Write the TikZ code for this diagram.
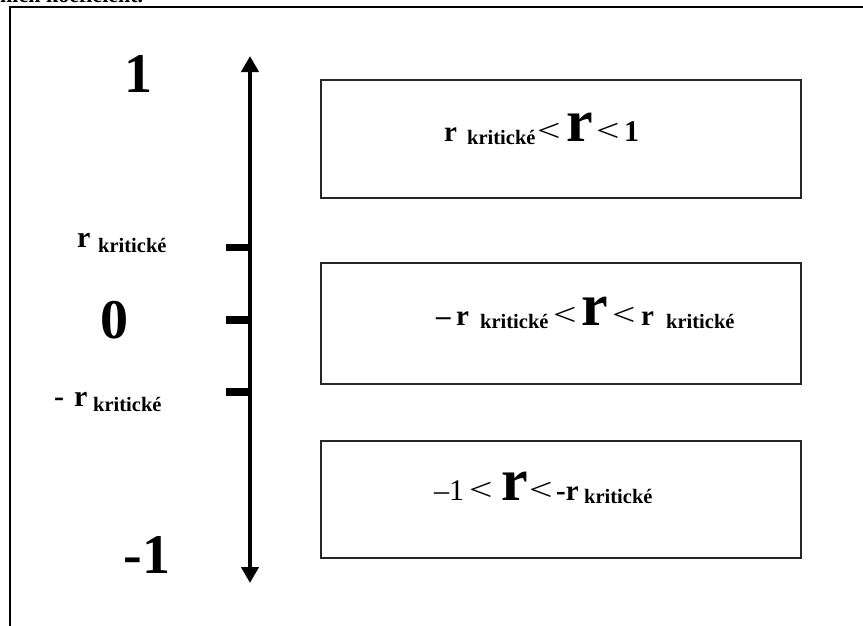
\documentclass[tikz,border=0pt]{standalone}
\usepackage{fontspec}
\setmainfont{Liberation Serif}
\usetikzlibrary{arrows.meta}
% sizes in pt; one pt per unit of the drawing grid
\newcommand\fsz[1]{\fontsize{#1}{#1}\selectfont}
\newcommand\ltsign{\scalebox{1.3}[1]{\fsz{32}\mdseries<}}
\begin{document}
\begin{tikzpicture}[x=1pt,y=-1pt,
  rangebox/.style={draw=black!85,line width=1.8pt},
  bigdigit/.style={font=\bfseries\fsz{56}},
  piece/.style={anchor=base west,inner sep=0pt,font=\bfseries},
  rsm/.style={piece,font=\bfseries\fsz{29}},
  rbig/.style={piece,font=\bfseries\fsz{60}},
  sub/.style={piece,font=\bfseries\fsz{20.5}},
  rel/.style={piece},
  axisline/.style={line width=4.5pt,{Triangle[width=17pt,length=16pt]}-{Triangle[width=17pt,length=16pt]}},
  tick/.style={line width=7.5pt}]
\useasboundingbox (0,0) rectangle (863,625);

% caption line above the frame, mostly cut away by the page edge
\node[anchor=base west,inner sep=0pt,font=\bfseries\fsz{22}] (caption) at (0,2) {ních koeficient.};

% open frame: left and top edges
\draw[line width=1.8pt] (10,640) |- (880,7);

% vertical scale
\coordinate (top) at (250,56);
\coordinate (bot) at (250,583);
\draw[axisline] (bot) -- (top);
\coordinate (tkp) at (250,247.5);
\coordinate (tkz) at (250,320);
\coordinate (tkm) at (250,392);
\draw[tick] (tkp) -- ++(-24,0);
\draw[tick] (tkz) -- ++(-24,0);
\draw[tick] (tkm) -- ++(-24,0);

% scale labels
\node[bigdigit] (one) at (138,74) {1};
\node[bigdigit] (zero) at (114,320) {0};
\node[bigdigit] (mone) at (147,555) {-1};
\node[rsm,font=\bfseries\fsz{30}] (lpr) at (77,247) {r};
\node[sub] (lpk) at (98,252) {kritické};
\node[rsm,font=\bfseries\fsz{30}] (lmr) at (54,406) {-\,\,r};
\node[sub] (lmk) at (93,411) {kritické};

% ranges
\node[rangebox,minimum width=480pt,minimum height=118pt] (b1) at (561,139) {};
\node[rangebox,minimum width=480pt,minimum height=121pt] (b2) at (561,323.5) {};
\node[rangebox,minimum width=480pt,minimum height=117pt] (b3) at (561,499.5) {};

% r_krit < r < 1
\node[rsm] (a1) at (444,141) {r};
\node[sub] (a2) at (467,144) {kritické};
\node[rel] (a3) at (537,141) {\ltsign};
\node[rbig] (a4) at (566,141) {r};
\node[rel] (a5) at (596,141) {\ltsign};
\node[rsm,font=\bfseries\fsz{30}] (a6) at (624,141) {1};

% -r_krit < r < r_krit
\node[rsm] (c1) at (436,325) {–};
\node[rsm] (c2) at (456,325) {r};
\node[sub] (c3) at (480,328) {kritické};
\node[rel] (c4) at (553,325) {\ltsign};
\node[rbig] (c5) at (581,325) {r};
\node[rel] (c6) at (612,325) {\ltsign};
\node[rsm] (c7) at (641,325) {r};
\node[sub] (c8) at (666,328) {kritické};

% -1 < r < -r_krit
\node[rsm,font=\mdseries\fsz{30}] (d1) at (434,500) {–1};
\node[rel] (d2) at (469,500) {\ltsign};
\node[rbig] (d3) at (501,500) {r};
\node[rel] (d4) at (529,500) {\ltsign};
\node[rsm] (d5) at (556,500) {-r};
\node[sub] (d6) at (584,503) {kritické};
\end{tikzpicture}
\end{document}
